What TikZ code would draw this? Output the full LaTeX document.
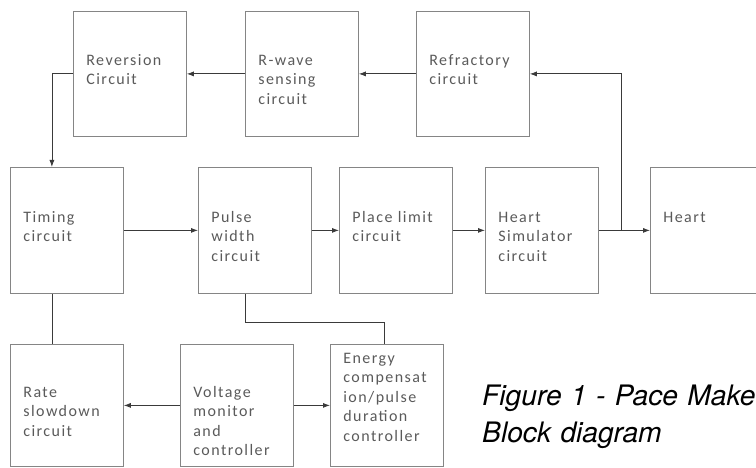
\documentclass[tikz,border=0pt]{standalone}
\usepackage{fontspec}
\usepackage{tikz}
\usetikzlibrary{arrows.meta}
\newfontfamily\blockfont{Carlito}[LetterSpace=9]
\newfontfamily\captionfont{TeX Gyre Heros}
\definecolor{boxgray}{HTML}{858585}
\definecolor{wiregray}{HTML}{3A3A3A}
\definecolor{textgray}{HTML}{5A5A5A}

\begin{document}
\begin{tikzpicture}[
        x = 1pt, y = -1pt,
        every node/.style = {inner sep=0pt},
        block/.style = {draw=boxgray, line width=0.8pt, anchor=north west,
          text width=87pt, inner xsep=13pt, inner ysep=0pt, align=left,
          text=textgray, font={\blockfont\fontsize{16}{19.5}\selectfont},
          text height=54pt, text depth=71pt},
        mid/.style = {block, text height=55pt, text depth=71pt},
        low/.style = {block, text height=53pt, text depth=69pt},
        wire/.style = {draw=wiregray, line width=0.8pt},
        arr/.style = {wire, -{Latex[length=7pt,width=5pt]}},
      ]

      \path[clip, use as bounding box] (0,0) rectangle (756,468);

      \node[block] (rev) at (73,11) {Reversion\\Circuit};
      \node[block] (rw) at (245,11) {R-wave\\sensing\\circuit};
      \node[block] (ref) at (416,11) {Refractory\\circuit};

      \node[mid] (tim) at (10,167) {Timing\\circuit};
      \node[mid] (pw) at (198,167) {Pulse\\width\\circuit};
      \node[mid] (pl) at (339,167) {Place limit\\circuit};
      \node[mid] (hs) at (485,167) {Heart\\Simulator\\circuit};
      \node[mid] (ht) at (650,167) {Heart};

      \node[low] (rs) at (10,344) {Rate\\slowdown\\circuit};
      \node[low] (vm) at (180,344) {Voltage\\monitor\\and\\controller};
      \node[low, text height=19pt, text depth=103pt] (en) at (330,344)
        {Energy\\compensat\\ion/pulse\\duration\\controller};

      \node[anchor=base west, text width=300pt, align=left,
        font={\captionfont\itshape\fontsize{28.2}{37}\selectfont}] (cap)
        at (482,405) {Figure 1 - Pace Make\\Block diagram};

      \coordinate (tap) at ([xshift=23pt]hs.east);

      \draw[arr] (ref.west) -- (rw.east);
      \draw[arr] (rw.west) -- (rev.east);
      \draw[arr] (rev.west) -| ([xshift=-15pt]tim.north);
      \draw[arr] (tim.east) -- (pw.west);
      \draw[arr] (pw.east) -- (pl.west);
      \draw[arr] (pl.east) -- (hs.west);
      \draw[arr] (hs.east) -- (ht.west);
      \draw[arr] (tap) |- (ref.east);
      \draw[wire] ([xshift=-15pt]tim.south) -- ([xshift=-15pt]rs.north);
      \draw[wire] ([xshift=-9.5pt]pw.south) -- ++(0,29) -| ([xshift=-3pt]en.north);
      \draw[arr] (vm.west) -- (rs.east);
      \draw[arr] (vm.east) -- (en.west);

    \end{tikzpicture}
\end{document}
